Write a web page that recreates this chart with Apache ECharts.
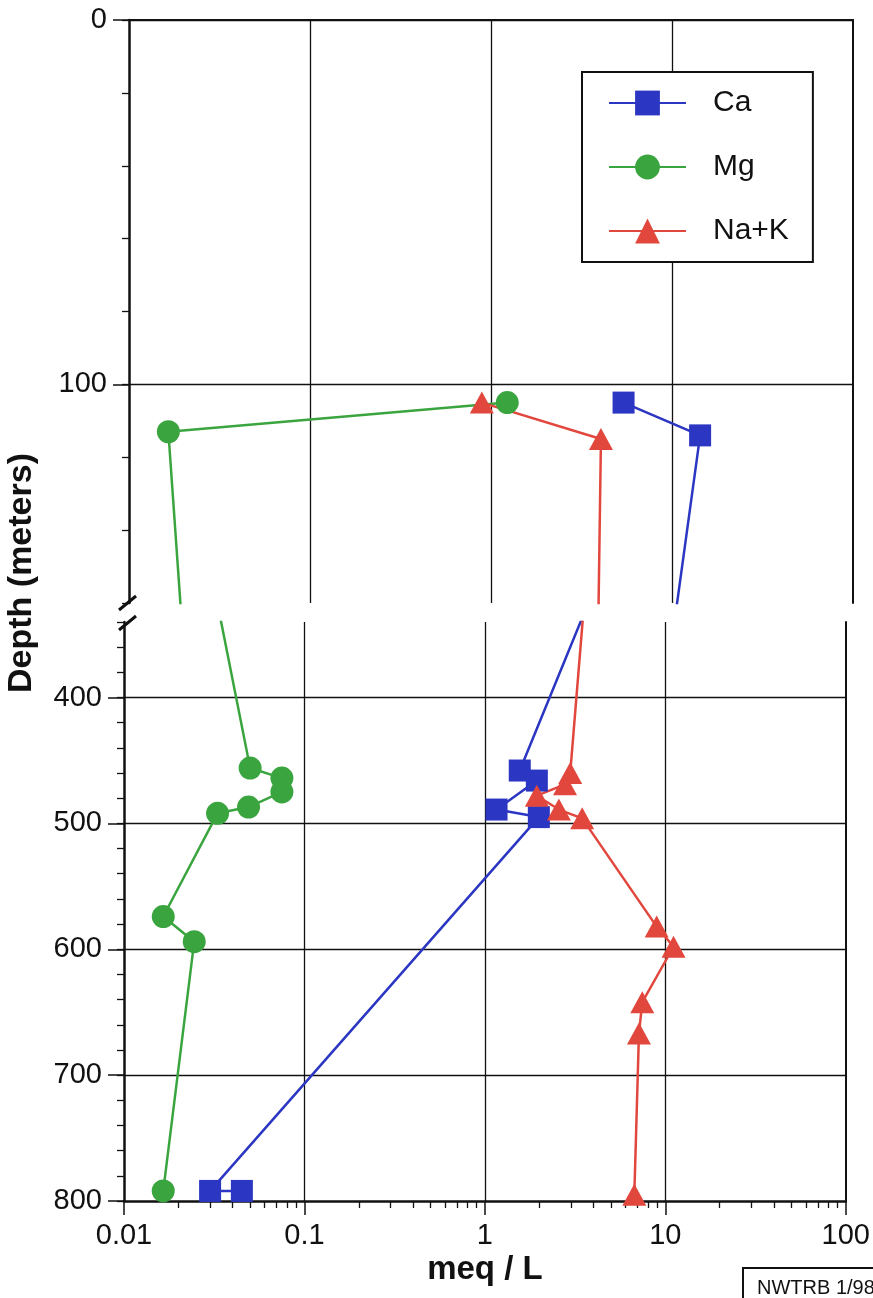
<!DOCTYPE html>
<html>
<head>
<meta charset="utf-8">
<script src="https://cdn.jsdelivr.net/npm/echarts@6/dist/echarts.min.js"></script>
<style>
  html, body { margin: 0; padding: 0; background: #fff; }
  #chart { width: 873px; height: 1298px; }
</style>
</head>
<body>
<div id="chart"></div>
<script>
// depth (m) and concentration (meq/L)
// the 335 m point lies inside the axis break, only its lines show
const caDepth = [105, 114, 335, 458, 466, 489, 495, 792, 792];
const caValue = [5.4, 14.3, 3.5, 1.56, 1.94, 1.16, 1.99, 0.030, 0.045];
const mgDepth = [105, 113, 335, 456, 464, 475, 487, 492, 574, 594, 792];
const mgValue = [1.23, 0.0165, 0.034, 0.050, 0.075, 0.075, 0.049, 0.033, 0.0165, 0.0245, 0.0165];
const naDepth = [105, 115, 335, 460, 469, 478, 489, 496, 582, 598, 642, 667, 795];
const naValue = [0.89, 4.05, 3.5, 2.97, 2.78, 1.94, 2.57, 3.46, 8.95, 11.1, 7.45, 7.14, 6.73];

const upperRange = [0, 160];
const lowerRange = [340, 800];
const upperLabels = [0, 100];
const lowerLabels = [400, 500, 600, 700, 800];
const xMinorTicks = [
  0.02, 0.03, 0.04, 0.05, 0.06, 0.07, 0.08, 0.09,
  0.2, 0.3, 0.4, 0.5, 0.6, 0.7, 0.8, 0.9,
  2, 3, 4, 5, 6, 7, 8, 9,
  20, 30, 40, 50, 60, 70, 80, 90
];

const FONT = "'Liberation Sans', Arial, Helvetica, sans-serif";
const INK = '#111';
const CLEAR = 'rgba(0,0,0,0)';
const colors = { Ca: '#2b36c2', Mg: '#3aa53f', 'Na+K': '#e2473d' };

function pairs(values, depths) {
  return values.map((v, i) => [v, depths[i]]);
}

function makeSeries(name, values, depths, symbol, size, xIdx, yIdx) {
  return {
    name: name,
    type: 'line',
    xAxisIndex: xIdx,
    yAxisIndex: yIdx,
    data: pairs(values, depths),
    symbol: symbol,
    symbolSize: size,
    showAllSymbol: true,
    clip: true,
    color: colors[name],
    lineStyle: { width: 2.5, color: colors[name] },
    itemStyle: { color: colors[name] },
    emphasis: { disabled: true },
    animation: false
  };
}

const logAxisBase = {
  type: 'log',
  logBase: 10,
  min: 0.01,
  max: 100
};

const chart = echarts.init(document.getElementById('chart'));
chart.setOption({
  backgroundColor: '#fff',
  animation: false,
  textStyle: { fontFamily: FONT },
  grid: [
    { left: 129, right: 20, top: 20, height: 583 },
    { left: 124, right: 25, top: 622, bottom: 97 }
  ],
  legend: {
    orient: 'vertical',
    left: 582,
    top: 72,
    data: ['Ca', 'Mg', 'Na+K'],
    backgroundColor: '#fff',
    borderColor: INK,
    borderWidth: 2,
    padding: [16, 24, 16, 26],
    itemWidth: 77,
    itemHeight: 31,
    itemGap: 34,
    selectedMode: false,
    textStyle: { fontSize: 30, color: INK, fontFamily: FONT, padding: [0, 0, 0, 22] }
  },
  xAxis: [
    Object.assign({}, logAxisBase, {
      gridIndex: 0,
      position: 'top',
      axisLine: { show: true, onZero: false, lineStyle: { color: INK, width: 2 } },
      axisTick: { show: false },
      axisLabel: { show: false },
      splitLine: { show: true, showMinLine: false, showMaxLine: false, lineStyle: { color: INK, width: 1.3 } }
    }),
    Object.assign({}, logAxisBase, {
      gridIndex: 1,
      position: 'bottom',
      name: 'meq / L',
      nameLocation: 'middle',
      nameGap: 52,
      nameTextStyle: { fontSize: 33, fontWeight: 'bold', color: INK, fontFamily: FONT },
      axisLine: { show: true, onZero: false, lineStyle: { color: INK, width: 2.5 } },
      axisTick: { show: true, inside: false, length: 14, lineStyle: { color: INK, width: 1.5 } },
      axisLabel: { show: true, fontSize: 29, color: INK, margin: 20, fontFamily: FONT },
      splitLine: { show: true, showMinLine: false, showMaxLine: false, lineStyle: { color: INK, width: 1.3 } }
    }),
    Object.assign({}, logAxisBase, {
      gridIndex: 1,
      position: 'bottom',
      axisLine: { show: false, onZero: false },
      axisTick: { show: true, inside: false, length: 7, customValues: xMinorTicks, lineStyle: { color: INK, width: 1.3 } },
      axisLabel: { show: false },
      splitLine: { show: false }
    })
  ],
  yAxis: [
    // upper section: minor ticks + split line at 100
    {
      type: 'value', gridIndex: 0, position: 'left', inverse: true,
      min: upperRange[0], max: upperRange[1], interval: 20,
      axisLine: { show: true, onZero: false, lineStyle: { color: INK, width: 2.5 } },
      axisTick: { show: true, inside: false, length: 7, lineStyle: { color: INK, width: 1.3 } },
      axisLabel: { show: false },
      splitLine: { show: true, showMinLine: true, showMaxLine: false, lineStyle: { color: [INK, CLEAR, CLEAR, CLEAR, CLEAR], width: 1.3 } }
    },
    // upper section: major ticks + labels
    {
      type: 'value', gridIndex: 0, position: 'left', inverse: true,
      min: upperRange[0], max: upperRange[1], interval: 20,
      axisLine: { show: false, onZero: false },
      axisTick: { show: true, inside: false, length: 16, customValues: upperLabels, lineStyle: { color: INK, width: 1.5 } },
      axisLabel: { show: true, customValues: upperLabels, fontSize: 29, color: INK, margin: 22, fontFamily: FONT },
      splitLine: { show: false }
    },
    {
      type: 'value', gridIndex: 0, position: 'right', inverse: true,
      min: upperRange[0], max: upperRange[1],
      axisLine: { show: true, onZero: false, lineStyle: { color: INK, width: 2 } },
      axisTick: { show: false }, axisLabel: { show: false }, splitLine: { show: false }
    },
    // lower section: minor ticks + split lines at 400..700
    {
      type: 'value', gridIndex: 1, position: 'left', inverse: true,
      min: lowerRange[0], max: lowerRange[1], interval: 20,
      axisLine: { show: true, onZero: false, lineStyle: { color: INK, width: 2.5 } },
      axisTick: { show: true, inside: false, length: 7, lineStyle: { color: INK, width: 1.3 } },
      axisLabel: { show: false },
      splitLine: { show: true, showMinLine: true, showMaxLine: false, lineStyle: { color: [CLEAR, CLEAR, CLEAR, INK, CLEAR], width: 1.3 } }
    },
    // lower section: major ticks + labels
    {
      type: 'value', gridIndex: 1, position: 'left', inverse: true,
      min: lowerRange[0], max: lowerRange[1], interval: 20,
      axisLine: { show: false, onZero: false },
      axisTick: { show: true, inside: false, length: 16, customValues: lowerLabels, lineStyle: { color: INK, width: 1.5 } },
      axisLabel: { show: true, customValues: lowerLabels, fontSize: 29, color: INK, margin: 22, fontFamily: FONT },
      splitLine: { show: false }
    },
    {
      type: 'value', gridIndex: 1, position: 'right', inverse: true,
      min: lowerRange[0], max: lowerRange[1],
      axisLine: { show: true, onZero: false, lineStyle: { color: INK, width: 2 } },
      axisTick: { show: false }, axisLabel: { show: false }, splitLine: { show: false }
    }
  ],
  series: [
    makeSeries('Ca', caValue, caDepth, 'rect', 22, 0, 0),
    makeSeries('Mg', mgValue, mgDepth, 'circle', 23, 0, 0),
    makeSeries('Na+K', naValue, naDepth, 'triangle', [24, 22], 0, 0),
    makeSeries('Ca', caValue, caDepth, 'rect', 22, 1, 3),
    makeSeries('Mg', mgValue, mgDepth, 'circle', 23, 1, 3),
    makeSeries('Na+K', naValue, naDepth, 'triangle', [24, 22], 1, 3)
  ],
  graphic: [
    // axis break marks
    { type: 'line', shape: { x1: 119, y1: 610, x2: 136, y2: 596 }, style: { stroke: INK, lineWidth: 3 } },
    { type: 'line', shape: { x1: 119, y1: 630, x2: 136, y2: 616 }, style: { stroke: INK, lineWidth: 3 } },
    {
      type: 'text', x: 22, y: 573, rotation: Math.PI / 2,
      style: { text: 'Depth (meters)', font: 'bold 34px ' + FONT, fill: INK, textAlign: 'center', textVerticalAlign: 'middle' }
    },
    {
      type: 'group', left: 742, top: 1267,
      children: [
        { type: 'rect', shape: { x: 0, y: 0, width: 140, height: 40 }, style: { fill: '#fff', stroke: INK, lineWidth: 2 } },
        { type: 'text', x: 14, y: 20, style: { text: 'NWTRB 1/98', font: '20px ' + FONT, fill: INK, textVerticalAlign: 'middle' } }
      ]
    }
  ]
});
</script>
</body>
</html>
